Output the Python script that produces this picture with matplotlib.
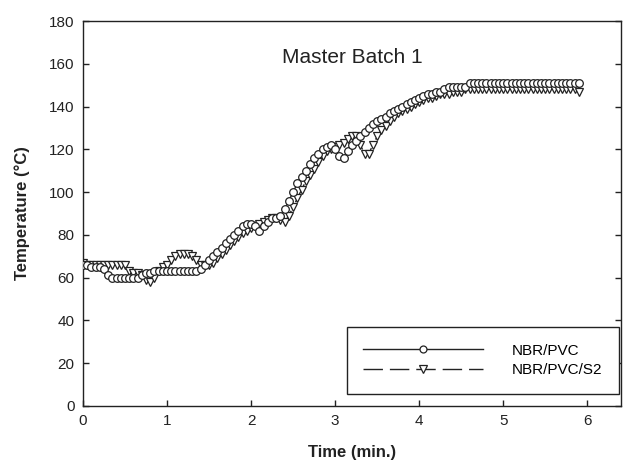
import numpy as np
import matplotlib
matplotlib.use("Agg")
import matplotlib.pyplot as plt
from matplotlib.lines import Line2D

plt.rcParams['font.family'] = ['Liberation Sans', 'DejaVu Sans']

dt = 0.05  # sampling interval (min.)

nbr_pvc = [
    66, 66, 65, 65, 65, 64, 61, 60, 60, 60,
    60, 60, 60, 60, 61, 62, 62, 63, 63, 63,
    63, 63, 63, 63, 63, 63, 63, 63, 64, 66,
    68, 70, 72, 74, 76, 78, 80, 82, 84, 85,
    85, 84, 82, 84, 86, 88, 88, 89, 92, 96,
    100, 104, 107, 110, 113, 116, 118, 120, 121, 122,
    120, 117, 116, 119, 122, 124, 126, 128, 130, 132,
    133, 134, 135, 137, 138, 139, 140, 141, 142, 143,
    144, 145, 146, 146, 147, 147, 148, 149, 149, 149,
    149, 149, 151, 151, 151, 151, 151, 151, 151, 151,
    151, 151, 151, 151, 151, 151, 151, 151, 151, 151,
    151, 151, 151, 151, 151, 151, 151, 151, 151,
]

nbr_pvc_s2 = [
    67, 66, 66, 66, 66, 66, 66, 66, 66, 66,
    66, 63, 62, 62, 61, 59, 58, 60, 63, 65,
    66, 68, 70, 71, 71, 71, 70, 68, 66, 66,
    66, 67, 69, 71, 73, 75, 77, 79, 81, 82,
    83, 84, 85, 86, 87, 88, 88, 87, 86, 89,
    93, 97, 101, 105, 108, 111, 114, 117, 119, 120,
    121, 122, 123, 125, 126, 126, 122, 118, 118, 122,
    126, 129, 131, 133, 135, 137, 138, 139, 140, 141,
    142, 143, 144, 144, 145, 146, 146, 146, 147, 147,
    147, 148, 148, 148, 148, 148, 148, 148, 148, 148,
    148, 148, 148, 148, 148, 148, 148, 148, 148, 148,
    148, 148, 148, 148, 148, 148, 148, 148, 147,
]

t1 = np.arange(len(nbr_pvc)) * dt
t2 = np.arange(len(nbr_pvc_s2)) * dt

x_ticks = [0, 1, 2, 3, 4, 5, 6]
y_ticks = [0, 20, 40, 60, 80, 100, 120, 140, 160, 180]
labels = ['NBR/PVC', 'NBR/PVC/S2']

fig = plt.figure(figsize=(6.29, 4.67), dpi=100)
ax = fig.add_axes([0.132, 0.131, 0.855, 0.824])

ink = '#222222'
ax.plot(t1, nbr_pvc, '-', color=ink, lw=1.0, marker='o', ms=5.5,
        mfc='white', mec=ink, mew=0.9, zorder=3)
ax.plot(t2, nbr_pvc_s2, '--', color=ink, lw=1.0, marker='v', ms=6,
        mfc='white', mec=ink, mew=0.9, zorder=2)

ax.set_xlim(0, 6.4)
ax.set_ylim(0, 180)
ax.set_xticks(x_ticks)
ax.set_yticks(y_ticks)
ax.tick_params(direction='in', length=4, width=1, labelsize=11,
               colors=ink, right=True, top=False, pad=6)
for s in ax.spines.values():
    s.set_color(ink)
    s.set_linewidth(1.0)

ax.set_xlabel('Time (min.)', fontsize=12, fontweight='bold', color=ink, labelpad=12)
ax.set_ylabel('Temperature (°C)', fontsize=12, fontweight='bold', color=ink, labelpad=14)

ax.text(0.5, 0.905, 'Master Batch 1', transform=ax.transAxes,
        ha='center', va='center', fontsize=15, color=ink)

handles = [
    Line2D([], [], color=ink, lw=1.0, ls='-', marker='o', ms=5,
           mfc='white', mec=ink, mew=0.9),
    Line2D([], [], color=ink, lw=1.0, ls=(0, (14, 5)), marker='v', ms=5.5,
           mfc='white', mec=ink, mew=0.9),
]
leg = ax.legend(handles, labels, loc='lower left',
                bbox_to_anchor=(0.49, 0.031), fontsize=11,
                handlelength=7.8, handletextpad=1.9, borderpad=1.1,
                labelspacing=0.35, numpoints=1, fancybox=False,
                framealpha=1, edgecolor=ink, borderaxespad=0)
leg.get_frame().set_linewidth(1.0)

fig.savefig('out.png', dpi=100)
